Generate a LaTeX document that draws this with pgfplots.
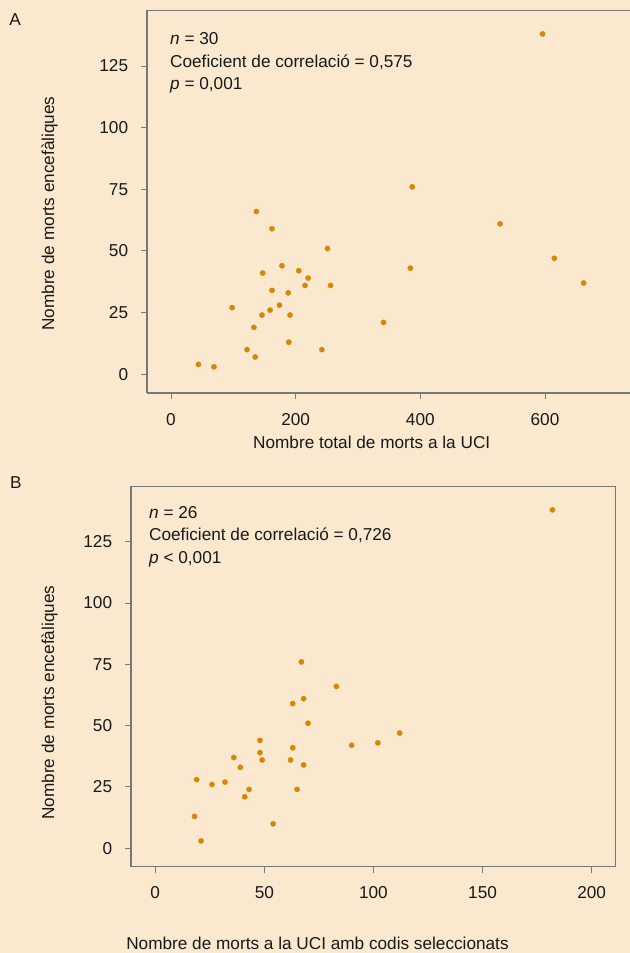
\documentclass[border=0pt]{standalone}
\usepackage{pgfplots}
\pgfplotsset{compat=1.18}
\usepackage{fontspec}
\setmainfont{Liberation Sans}
\definecolor{bg}{RGB}{250,233,207}
\definecolor{pt}{RGB}{214,135,8}
\definecolor{axc}{RGB}{120,120,120}
\definecolor{txt}{RGB}{25,25,25}
\newcommand\fs{\fontsize{17.2bp}{21bp}\selectfont}
\pgfplotsset{
  myax/.style={
    scale only axis,
    axis background/.style={fill=bg},
    axis line style={draw=axc, line width=1.2bp},
    every tick/.style={draw=axc, line width=1bp},
    tick align=outside,
    major tick length=6bp,
    xtick pos=bottom, ytick pos=left,
    tick label style={font=\fs, text=txt, inner sep=0pt},
    /pgf/number format/assume math mode=true,
    yticklabel shift=12.7bp,
    xticklabel shift=14bp,
    ytick={0,25,50,75,100,125},
    clip=false,
  },
  mypts/.style={only marks, mark=*, mark size=2.7bp, mark options={draw=pt, fill=pt, line width=0.2bp}},
}
\begin{document}
\begin{tikzpicture}[x=1bp,y=1bp]
\useasboundingbox (0,0) rectangle (630,953);
\fill[bg] (0,0) rectangle (630,953);
% Panel A
\begin{axis}[myax,
  at={(147bp,560bp)}, anchor=south west,
  width=486bp, height=382.7bp,
  xmin=-38.5, xmax=741.2, ymin=-7.6, ymax=147.6,
  xtick={0,200,400,600},
  axis x line*=bottom, axis y line*=left,
]
\addplot[mypts] coordinates {
(44,4) (69,3) (137,66) (162,59) (251,51) (387,76) (528,61) (615,47) (662,37) (384,43)
(178,44) (147,41) (205,42) (220,39) (215,36) (256,36) (162,34) (188,33) (98,27) (174,28)
(159,26) (146,24) (191,24) (133,19) (341,21) (189,13) (122,10) (135,7) (242,10) (596,138)
};
\end{axis}
\draw[axc, line width=1.2bp] (147,942.7) -- (633,942.7);
% Panel B
\begin{axis}[myax,
  at={(131bp,86.3bp)}, anchor=south west,
  width=484.7bp, height=380.4bp,
  xmin=-11.1, xmax=211.0, ymin=-7.5, ymax=147.6,
  xtick={0,50,100,150,200},
]
\addplot[mypts] coordinates {
(67,76) (83,66) (63,59) (68,61) (70,51) (112,47) (102,43) (90,42) (48,44) (63,41)
(48,39) (36,37) (49,36) (62,36) (68,34) (39,33) (19,28) (32,27) (26,26) (43,24)
(65,24) (41,21) (18,13) (54,10) (21,3) (182,138)
};
\end{axis}
% Texts
\begin{scope}[every node/.style={font=\fs, text=txt, inner sep=0pt}]
\node[anchor=base west] at (9.3,927) {A};
\node[anchor=base west] at (10,464.7) {B};
\node[anchor=base west] at (170,908) {\textit{n} = 30};
\node[anchor=base west] at (170,885.5) {Coeficient de correlació = 0,575};
\node[anchor=base west] at (170,863) {\textit{p} = 0,001};
\node[anchor=base west] at (149,434.7) {\textit{n} = 26};
\node[anchor=base west] at (149,412.3) {Coeficient de correlació = 0,726};
\node[anchor=base west] at (149,389) {\textit{p} < 0,001};
\node[anchor=base, rotate=90] at (54,739.5) {Nombre de morts encefàliques};
\node[anchor=base, rotate=90] at (54,250.3) {Nombre de morts encefàliques};
\node[anchor=base] at (371.7,504.7) {Nombre total de morts a la UCI};
\node[anchor=base] at (317.5,3.5) {Nombre de morts a la UCI amb codis seleccionats};
\end{scope}
\end{tikzpicture}
\end{document}
